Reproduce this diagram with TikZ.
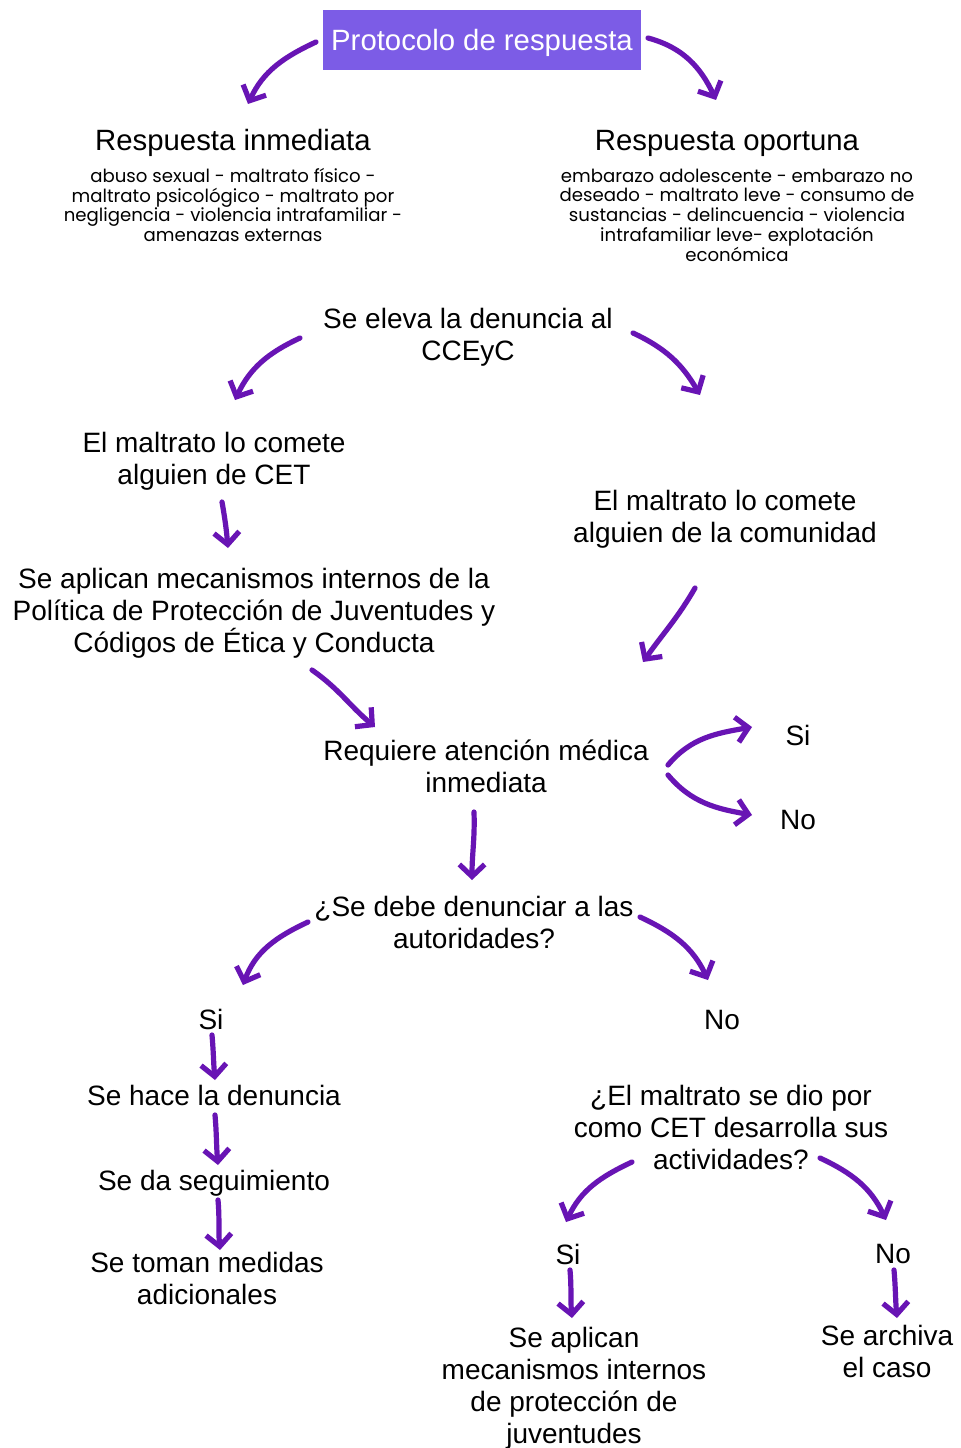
\documentclass[tikz,border=0pt]{standalone}
\usepackage{fontspec}
\setmainfont{Liberation Sans}
\newfontfamily\popp{Poppins}
\usetikzlibrary{arrows.meta}
\definecolor{boxcol}{RGB}{124,92,230}
\definecolor{arrcol}{RGB}{104,20,180}
\begin{document}
\begin{tikzpicture}[x=0.75pt,y=0.75pt,
  txt/.style={align=center,font=\fontsize{21}{24}\selectfont,inner sep=0pt},
  dsc/.style={yshift=-2.25pt},
  head/.style={align=center,font=\fontsize{22}{26}\selectfont,inner sep=0pt,text height=15.8pt,text depth=0pt},
  small/.style={align=center,font=\popp\fontsize{13.6}{14.8}\selectfont,inner sep=0pt},
  titlebox/.style={fill=boxcol,text=white,font=\fontsize{22}{26}\selectfont,minimum width=239pt,minimum height=45pt,inner sep=0pt,text height=15.8pt,text depth=0pt},
  arr/.style={draw=arrcol,line width=3.9pt,line cap=round,line join=round,-{Straight Barb[length=9pt,width=19pt]}}]
\path[use as bounding box,fill=white] (0,0) rectangle (960,-1448);

% nodes
\node[titlebox] (t0) at (482,-40) {Protocolo de respuesta};
\node[head] (ri) at (233,-140) {Respuesta inmediata};
\node[head] (ro) at (727,-140) {Respuesta oportuna};
\node[small] (si) at (233,-205) {abuso sexual - maltrato físico -\\maltrato psicológico - maltrato por\\negligencia - violencia intrafamiliar -\\amenazas externas};
\node[small] (so) at (737,-215) {embarazo adolescente - embarazo no\\deseado - maltrato leve - consumo de\\sustancias - delincuencia - violencia\\intrafamiliar leve- explotación\\económica};
\node[txt,dsc] (el) at (468,-334) {Se eleva la denuncia al\\CCEyC};
\node[txt,dsc] (mc) at (214,-458) {El maltrato lo comete\\alguien de CET};
\node[txt,dsc] (ma) at (254,-610) {Se aplican mecanismos internos de la\\Política de Protección de Juventudes y\\Códigos de Ética y Conducta};
\node[txt,dsc] (mcom) at (725,-516) {El maltrato lo comete\\alguien de la comunidad};
\node[txt] (req) at (486,-766) {Requiere atención médica\\inmediata};
\node[txt] (rsi) at (798,-735) {Si};
\node[txt] (rno) at (798,-820) {No};
\node[txt] (den) at (474,-922) {¿Se debe denunciar a las\\autoridades?};
\node[txt] (dsi) at (211,-1019) {Si};
\node[txt] (dno) at (722,-1020) {No};
\node[txt] (hace) at (214,-1095) {Se hace la denuncia};
\node[txt,dsc] (seg) at (214,-1180) {Se da seguimiento};
\node[txt] (tom) at (207,-1278) {Se toman medidas\\adicionales};
\node[txt] (cet) at (731,-1127) {¿El maltrato se dio por\\como CET desarrolla sus\\actividades?};
\node[txt] (csi) at (568,-1254) {Si};
\node[txt] (cno) at (893,-1254) {No};
\node[txt,dsc] (apl) at (574,-1385) {Se aplican\\mecanismos internos\\de protección de\\juventudes};
\node[txt] (arc) at (887,-1351) {Se archiva\\el caso};

% arrow end points
\coordinate (a1s) at (316,-42);  \coordinate (a1e) at (248,-104);
\coordinate (a2s) at (648,-38);  \coordinate (a2e) at (716,-100);
\coordinate (a3s) at (300,-338); \coordinate (a3e) at (235,-400);
\coordinate (a4s) at (633,-333); \coordinate (a4e) at (700,-395);
\coordinate (a5s) at (222,-502); \coordinate (a5e) at (228,-548);
\coordinate (a6s) at (695,-588); \coordinate (a6e) at (643,-662);
\coordinate (a7s) at (312,-670); \coordinate (a7e) at (375,-727);
\coordinate (a8s) at (668,-765); \coordinate (a8e) at (752,-727);
\coordinate (a9s) at (668,-775); \coordinate (a9e) at (752,-815);
\coordinate (a10s) at (474,-812); \coordinate (a10e) at (472,-880);
\coordinate (a11s) at (308,-922); \coordinate (a11e) at (243,-985);
\coordinate (a12s) at (640,-917); \coordinate (a12e) at (708,-980);
\coordinate (a13s) at (212,-1035); \coordinate (a13e) at (215,-1080);
\coordinate (a14s) at (215,-1115); \coordinate (a14e) at (218,-1165);
\coordinate (a15s) at (218,-1200); \coordinate (a15e) at (220,-1250);
\coordinate (a16s) at (632,-1162); \coordinate (a16e) at (566,-1222);
\coordinate (a17s) at (820,-1158); \coordinate (a17e) at (886,-1220);
\coordinate (a18s) at (570,-1270); \coordinate (a18e) at (572,-1318);
\coordinate (a19s) at (894,-1270); \coordinate (a19e) at (897,-1318);

% arrows
\draw[arr] (a1s) to[out=205,in=65] (a1e);
\draw[arr] (a2s) to[out=-15,in=115] (a2e);
\draw[arr] (a3s) to[out=205,in=65] (a3e);
\draw[arr] (a4s) to[out=-25,in=120] (a4e);
\draw[arr] (a5s) to[out=-80,in=95] (a5e);
\draw[arr] (a6s) to[out=-120,in=55] (a6e);
\draw[arr] (a7s) to[out=-35,in=140] (a7e);
\draw[arr] (a8s) to[out=50,in=190] (a8e);
\draw[arr] (a9s) to[out=-50,in=170] (a9e);
\draw[arr] (a10s) to[out=-88,in=90] (a10e);
\draw[arr] (a11s) to[out=205,in=70] (a11e);
\draw[arr] (a12s) to[out=-25,in=115] (a12e);
\draw[arr] (a13s) to[out=-85,in=95] (a13e);
\draw[arr] (a14s) to[out=-85,in=95] (a14e);
\draw[arr] (a15s) to[out=-85,in=95] (a15e);
\draw[arr] (a16s) to[out=205,in=65] (a16e);
\draw[arr] (a17s) to[out=-25,in=115] (a17e);
\draw[arr] (a18s) to[out=-85,in=95] (a18e);
\draw[arr] (a19s) to[out=-85,in=95] (a19e);
\end{tikzpicture}
\end{document}
